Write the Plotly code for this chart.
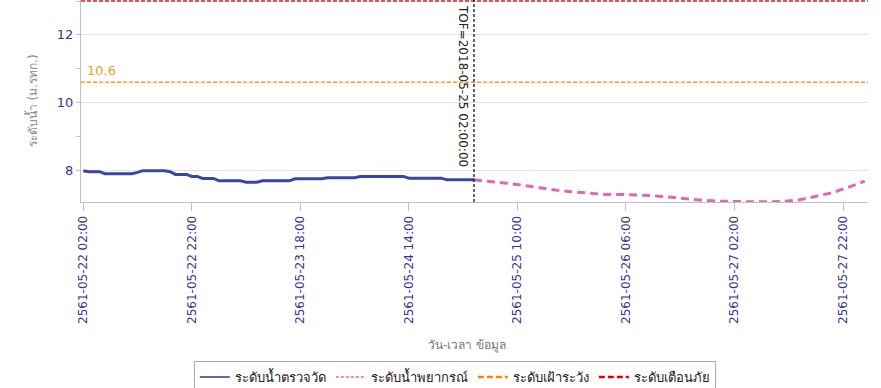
import datetime as dt
import plotly.graph_objects as go

# ---- data ----
obs_start = "2561-05-22 02:00"
observed = [7.99, 7.96, 7.96, 7.96, 7.90, 7.90, 7.90, 7.90, 7.90, 7.90,
            7.94, 7.99, 7.99, 7.99, 7.99, 7.99, 7.96, 7.88, 7.88, 7.88,
            7.82, 7.82, 7.76, 7.76, 7.76, 7.69, 7.69, 7.69, 7.69, 7.69,
            7.65, 7.65, 7.65, 7.69, 7.69, 7.69, 7.69, 7.69, 7.69, 7.75,
            7.75, 7.75, 7.75, 7.75, 7.75, 7.78, 7.78, 7.78, 7.78, 7.78,
            7.78, 7.82, 7.82, 7.82, 7.82, 7.82, 7.82, 7.82, 7.82, 7.82,
            7.77, 7.77, 7.77, 7.77, 7.77, 7.77, 7.77, 7.72, 7.72, 7.72,
            7.72, 7.72, 7.72]
fc_start = "2561-05-25 02:00"
fc_step_hours = 3
forecast = [7.72, 7.68, 7.62, 7.56, 7.48, 7.42, 7.37, 7.33, 7.29, 7.29,
            7.28, 7.25, 7.21, 7.16, 7.12, 7.09, 7.07, 7.07, 7.07, 7.08,
            7.13, 7.24, 7.34, 7.50, 7.68]
watch_level = 10.6
warn_level = 13.0
tof = "2561-05-25 02:00"
tof_label = "TOF=2018-05-25 02:00:00"
x_range = ["2561-05-22 01:35", "2561-05-28 02:36"]
y_range = [7.065, 13.03]
names = ["ระดับน้ำตรวจวัด", "ระดับน้ำพยากรณ์", "ระดับเฝ้าระวัง", "ระดับเตือนภัย"]
x_title = "วัน-เวลา ข้อมูล"
y_title = "ระดับน้ำ (ม.รทก.)"

FMT = "%Y-%m-%d %H:%M"


def times(start, n, step_h):
    t0 = dt.datetime.strptime(start, FMT)
    return [(t0 + dt.timedelta(hours=i * step_h)).strftime(FMT) for i in range(n)]


x_obs = times(obs_start, len(observed), 1)
x_fc = times(fc_start, len(forecast), fc_step_hours)

BLUE = "#3a46a4"
PINK = "#df68b6"
ORANGE = "#f0a020"
RED = "#cc2020"
LBL = "#333399"
FONT = "DejaVu Sans, Noto Sans, sans-serif"

fig = go.Figure()
fig.add_trace(go.Scatter(x=x_obs, y=observed, mode="lines", name=names[0],
                         showlegend=False, line=dict(color=BLUE, width=3)))
fig.add_trace(go.Scatter(x=x_fc, y=forecast, mode="lines", name=names[1],
                         showlegend=False,
                         line=dict(color=PINK, width=3, dash="8px,5px")))
# legend entries
fig.add_trace(go.Scatter(x=[None], y=[None], mode="lines", name=names[0],
                         line=dict(color="#33338f", width=1.5)))
fig.add_trace(go.Scatter(x=[None], y=[None], mode="lines", name=names[1],
                         line=dict(color=PINK, width=1.5, dash="3px,2px")))
fig.add_trace(go.Scatter(x=[None], y=[None], mode="lines", name=names[2],
                         line=dict(color="#ff8000", width=2.5, dash="6px,3px")))
fig.add_trace(go.Scatter(x=[None], y=[None], mode="lines", name=names[3],
                         line=dict(color="#e00000", width=2.5, dash="6px,3px")))

fig.add_shape(type="line", xref="paper", x0=0, x1=1, yref="y",
              y0=watch_level, y1=watch_level,
              line=dict(color=ORANGE, width=1.5, dash="4px,2px"))
fig.add_shape(type="line", xref="paper", x0=0, x1=1, yref="y",
              y0=warn_level, y1=warn_level,
              line=dict(color=RED, width=1.5, dash="4px,2px"))
fig.add_shape(type="line", xref="x", x0=tof, x1=tof, yref="paper", y0=0, y1=1,
              line=dict(color="black", width=1.2, dash="3px,2px"))

fig.add_annotation(text=str(watch_level), xref="paper", x=0.005, xanchor="left",
                   yref="y", y=watch_level, yanchor="bottom", yshift=2,
                   showarrow=False, font=dict(color=ORANGE, size=13, family=FONT))
fig.add_annotation(text=tof_label, xref="x", x=tof, xanchor="right", xshift=-2,
                   yref="paper", y=1, yanchor="top", yshift=-3, textangle=90,
                   showarrow=False, font=dict(color="#222", size=12, family=FONT))
fig.add_annotation(text=x_title, xref="paper", x=0.49, xanchor="center",
                   yref="paper", y=-0.708, yanchor="middle",
                   showarrow=False, font=dict(color="#777", size=12, family=FONT))
fig.add_annotation(text=y_title, xref="paper", x=-0.062, xanchor="center",
                   yref="paper", y=0.5, yanchor="middle", textangle=-90,
                   showarrow=False, font=dict(color="#888", size=12, family=FONT))

fig.update_layout(
    width=881, height=388,
    margin=dict(l=81, r=13, t=0, b=186, autoexpand=False),
    paper_bgcolor="white", plot_bgcolor="white",
    font=dict(family=FONT, size=12, color="#333"),
    showlegend=True,
    legend=dict(orientation="h", x=0.475, xanchor="center",
                yref="container", y=(388 - 361) / 388, yanchor="top",
                bordercolor="#aaa", borderwidth=1, bgcolor="white",
                font=dict(size=13, color="#222", family=FONT),
                itemwidth=30, tracegroupgap=0),
    xaxis=dict(type="date", range=x_range, tickmode="linear",
               tick0=obs_start, dtick=20 * 3600 * 1000, tickformat=FMT,
               tickangle=-90, ticks="outside", ticklen=8, tickcolor="#c0c0c0",
               showline=True, linecolor="#c0c0c0", showgrid=False, zeroline=False,
               automargin=False,
               tickfont=dict(color=LBL, size=12, family=FONT)),
    yaxis=dict(range=y_range, tickmode="linear", tick0=8, dtick=2,
               ticks="outside", ticklen=4, tickcolor="#c0c0c0",
               minor=dict(dtick=1, tick0=8, ticks="outside", ticklen=4,
                          tickcolor="#c0c0c0", showgrid=False),
               showline=True, linecolor="#c0c0c0", showgrid=True,
               gridcolor="#e3e3e3", zeroline=False, automargin=False,
               tickfont=dict(color=LBL, size=13, family=FONT)),
)

fig.write_html("out.html",
               config={"displayModeBar": False},
               post_script="document.body.style.margin='0px';")
